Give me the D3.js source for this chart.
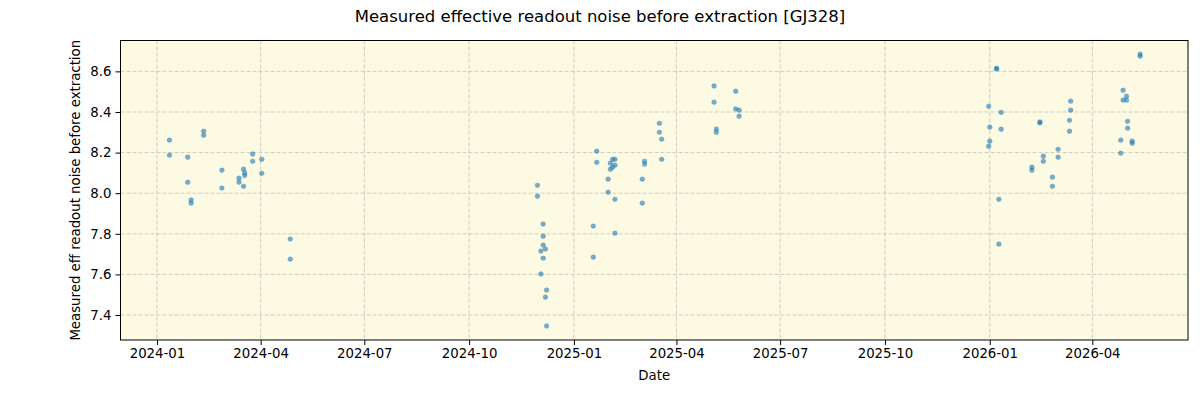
<!DOCTYPE html>
<html lang="en">
  <head>
    <meta charset="UTF-8" />
    <title>Measured effective readout noise</title>
    <script src="https://d3js.org/d3.v7.min.js"></script>
    <style>
      body { margin: 0; background: #fff; }
      text { font-family: "DejaVu Sans", sans-serif; }
    </style>
  </head>
  <body>
    <svg width="1200" height="400"></svg>
    <script>
      let dates = [
        "2024-01-12", "2024-01-12", "2024-01-28", "2024-01-28", "2024-01-31", "2024-01-31",
        "2024-02-11", "2024-02-11", "2024-02-27", "2024-02-27", "2024-03-13", "2024-03-13",
        "2024-03-17", "2024-03-18", "2024-03-18", "2024-03-17", "2024-03-25", "2024-03-25",
        "2024-04-02", "2024-04-02", "2024-04-27", "2024-04-27",
        "2024-11-30", "2024-11-30", "2024-12-05", "2024-12-05", "2024-12-05", "2024-12-05",
        "2024-12-03", "2024-12-03", "2024-12-07", "2024-12-07", "2024-12-08", "2024-12-08",
        "2025-01-18", "2025-01-18", "2025-01-21", "2025-01-21", "2025-01-31", "2025-01-31",
        "2025-02-02", "2025-02-02", "2025-02-04", "2025-02-04", "2025-02-06", "2025-02-06",
        "2025-02-06", "2025-02-06", "2025-03-02", "2025-03-02", "2025-03-04", "2025-03-04",
        "2025-03-17", "2025-03-17", "2025-03-19", "2025-03-19", "2025-05-04", "2025-05-04",
        "2025-05-06", "2025-05-06", "2025-05-23", "2025-05-23", "2025-05-26", "2025-05-26",
        "2025-12-31", "2025-12-31", "2026-01-01", "2026-01-01", "2026-01-07", "2026-01-07",
        "2026-01-09", "2026-01-09", "2026-01-11", "2026-01-11", "2026-02-07", "2026-02-07",
        "2026-02-14", "2026-02-14", "2026-02-17", "2026-02-17", "2026-02-25", "2026-02-25",
        "2026-03-02", "2026-03-02", "2026-03-12", "2026-03-12", "2026-03-13", "2026-03-13",
        "2026-04-26", "2026-04-26", "2026-04-28", "2026-04-28", "2026-05-01", "2026-05-01",
        "2026-05-02", "2026-05-02", "2026-05-06", "2026-05-06", "2026-05-13", "2026-05-13",
      ];
      let values = [
        8.261, 8.187, 8.177, 8.054, 7.967, 7.951,
        8.305, 8.285, 8.113, 8.025, 8.074, 8.054,
        8.118, 8.100, 8.087, 8.034, 8.193, 8.157,
        8.167, 8.098, 7.774, 7.675,
        8.039, 7.985, 7.848, 7.788, 7.744, 7.680,
        7.715, 7.602, 7.725, 7.488, 7.523, 7.346,
        7.838, 7.685, 8.207, 8.152, 8.069, 8.005,
        8.148, 8.118, 8.167, 8.128, 8.167, 8.138,
        7.970, 7.803, 8.069, 7.951, 8.157, 8.143,
        8.344, 8.300, 8.266, 8.167, 8.528, 8.448,
        8.316, 8.300, 8.502, 8.415, 8.409, 8.379,
        8.428, 8.231, 8.325, 8.256, 8.615, 8.612,
        7.970, 7.749, 8.398, 8.315, 8.128, 8.113,
        8.351, 8.346, 8.182, 8.157, 8.079, 8.034,
        8.216, 8.177, 8.359, 8.305, 8.453, 8.409,
        8.261, 8.197, 8.507, 8.458, 8.478, 8.458,
        8.354, 8.320, 8.256, 8.246, 8.685, 8.675,
      ];
      let xTicks = [
        "2024-01-01", "2024-04-01", "2024-07-01", "2024-10-01", "2025-01-01",
        "2025-04-01", "2025-07-01", "2025-10-01", "2026-01-01", "2026-04-01",
      ];
      let yTicks = [7.4, 7.6, 7.8, 8.0, 8.2, 8.4, 8.6];

      let parse = d3.utcParse("%Y-%m-%d");
      let data = dates.map((d, i) => ({ date: parse(d), value: values[i] }));

      let margin = { top: 40.5, right: 12, bottom: 60, left: 120.5 },
        width = 1200 - margin.left - margin.right,
        height = 400 - margin.top - margin.bottom;

      let svg = d3.select("svg");
      let chart = svg
        .append("g")
        .attr("transform", "translate(" + margin.left + "," + margin.top + ")");

      let xScale = d3
        .scaleUtc()
        .domain([parse("2023-11-30"), parse("2026-06-24")])
        .range([0, width]);
      let yScale = d3.scaleLinear().domain([7.277, 8.752]).range([height, 0]);

      chart
        .append("rect")
        .attr("width", width)
        .attr("height", height)
        .attr("fill", "#fcfae2");

      // grid
      chart
        .append("g")
        .selectAll("line")
        .data(xTicks.map(parse))
        .enter()
        .append("line")
        .attr("x1", (d) => xScale(d))
        .attr("x2", (d) => xScale(d))
        .attr("y1", 0)
        .attr("y2", height)
        .attr("stroke", "#b0b0b0")
        .attr("stroke-opacity", 0.6)
        .attr("stroke-dasharray", "4,2");
      chart
        .append("g")
        .selectAll("line")
        .data(yTicks)
        .enter()
        .append("line")
        .attr("x1", 0)
        .attr("x2", width)
        .attr("y1", (d) => yScale(d))
        .attr("y2", (d) => yScale(d))
        .attr("stroke", "#b0b0b0")
        .attr("stroke-opacity", 0.6)
        .attr("stroke-dasharray", "4,2");

      chart
        .selectAll("circle")
        .data(data)
        .enter()
        .append("circle")
        .attr("cx", (d) => xScale(d.date))
        .attr("cy", (d) => yScale(d.value))
        .attr("r", 2.4)
        .attr("fill", "#1f77b4")
        .attr("fill-opacity", 0.6)
        .attr("stroke", "#1f77b4")
        .attr("stroke-opacity", 0.25)
        .attr("stroke-width", 0.8);

      let fmt = d3.utcFormat("%Y-%m");
      let xAxis = chart
        .append("g")
        .attr("transform", "translate(0," + height + ")")
        .call(
          d3.axisBottom(xScale).tickValues(xTicks.map(parse)).tickFormat(fmt).tickSize(5).tickPadding(4)
        );
      let yAxis = chart
        .append("g")
        .call(d3.axisLeft(yScale).tickValues(yTicks).tickFormat(d3.format(".1f")).tickSize(5).tickPadding(4));
      [xAxis, yAxis].forEach((a) => {
        a.select(".domain").remove();
        a.selectAll("text").attr("font-size", 13.3).attr("fill", "#000").attr("font-family", "DejaVu Sans");
        a.selectAll("line").attr("stroke", "#000");
      });

      chart
        .append("rect")
        .attr("width", width)
        .attr("height", height)
        .attr("fill", "none")
        .attr("stroke", "#000")
        .attr("stroke-width", 1);

      svg
        .append("text")
        .attr("x", 600)
        .attr("y", 22)
        .attr("text-anchor", "middle")
        .attr("font-size", 16.5)
        .text("Measured effective readout noise before extraction [GJ328]");

      svg
        .append("text")
        .attr("x", margin.left + width / 2)
        .attr("y", 380)
        .attr("text-anchor", "middle")
        .attr("font-size", 13.3)
        .text("Date");

      svg
        .append("text")
        .attr("transform", "translate(80," + (margin.top + height / 2) + ") rotate(-90)")
        .attr("text-anchor", "middle")
        .attr("font-size", 13.3)
        .text("Measured eff readout noise before extraction");
    </script>
  </body>
</html>
